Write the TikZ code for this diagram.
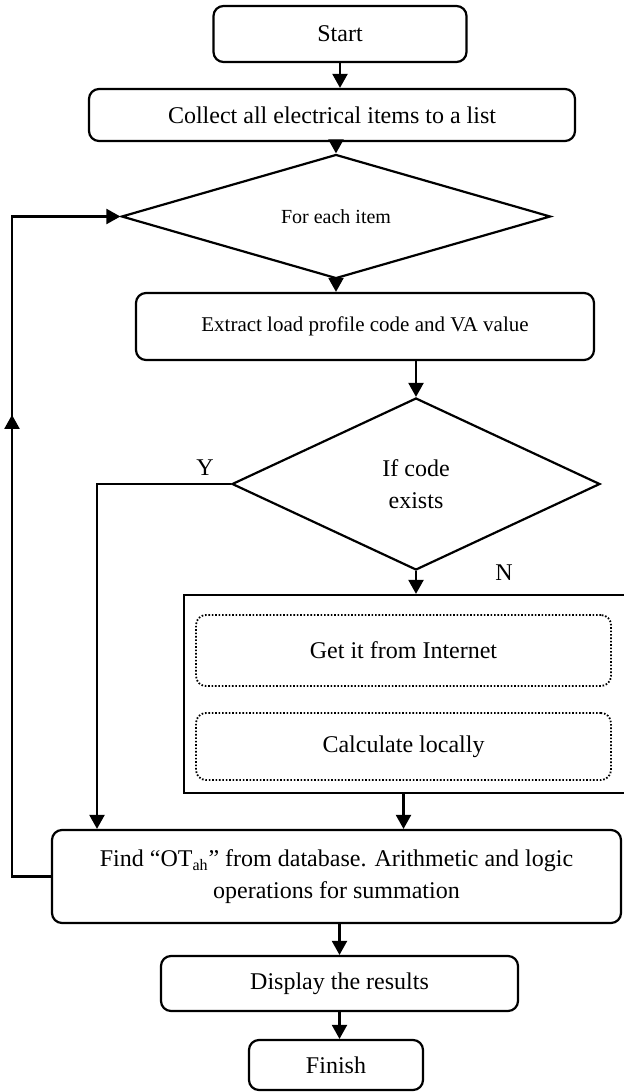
\documentclass[tikz,border=0pt]{standalone}
\usepackage{fontspec}
\setmainfont{Liberation Serif}
\usetikzlibrary{arrows.meta, shapes.geometric, decorations.markings}

\begin{document}
\begin{tikzpicture}[
    x=0.5pt, y=-0.5pt,
    every node/.style={font=\fontsize{12}{16}\selectfont},
    box/.style={rectangle, draw, line width=1.1pt, rounded corners=5pt, inner sep=0pt, align=center},
    decision/.style={diamond, draw, line width=1.1pt, inner sep=0pt, align=center},
    option/.style={rectangle, draw, line width=0.9pt, dash pattern=on 0.8pt off 0.9pt, rounded corners=5pt, inner sep=0pt, align=center},
    group/.style={rectangle, draw, line width=1.1pt, inner sep=0pt},
    arrow/.style={-{Triangle[length=7pt, width=7.5pt]}, line width=1.1pt}
]
\useasboundingbox (0,0) rectangle (623,1092);

% Main nodes
\node[box, minimum width=126.5pt, minimum height=28pt] (start) at (340,34) {Start};
\node[box, minimum width=243pt, minimum height=26pt] (collect) at (332,115) {Collect all electrical items to a list};
\node[decision, minimum width=214.5pt, minimum height=49.5pt, font=\fontsize{10}{12}\selectfont] (each) at (336,216.5) {For each item};
\node[box, minimum width=229pt, minimum height=33.5pt, font=\fontsize{10.5}{12}\selectfont] (extract) at (365,326.5) {Extract load profile code and VA value};
\node[decision, minimum width=184pt, minimum height=86pt] (exists) at (416,484) {If code\\exists};

% Ways to get the code
\node[group, minimum width=221pt, minimum height=99pt] (fetch) at (405,694) {};
\node[option, minimum width=207.5pt, minimum height=35.5pt] (internet) at (403.5,650.5) {Get it from Internet};
\node[option, minimum width=207.5pt, minimum height=33.5pt] (local) at (403.5,746.5) {Calculate locally};

\node[box, minimum width=284.5pt, minimum height=46.5pt] (find) at (336.5,876.5) {Find ``OT\textsubscript{ah}'' from database. Arithmetic and logic\\operations for summation};
\node[box, minimum width=178.5pt, minimum height=27.5pt] (display) at (339.5,983.5) {Display the results};
\node[box, minimum width=87pt, minimum height=25pt] (finish) at (336,1065) {Finish};

% Branch labels
\node (ylabel) at (205,468) {Y};
\node (nlabel) at (504,573) {N};

\coordinate (yleg) at (97,0);
\coordinate (back) at (12,0);

% Arrows
\draw[arrow] (start.south) -- (start.south |- collect.north);
\draw[arrow] (each.north |- collect.south) -- (each.north);
\draw[arrow] (each.south) -- (each.south |- extract.north);
\draw[arrow] (exists.north |- extract.south) -- (exists.north);
\draw[arrow] (exists.south) -- (exists.south |- fetch.north);
\draw[arrow] (exists.west) -| (yleg |- find.north);
\draw[arrow] (fetch.south -| internet.south) -- (internet.south |- find.north);
\draw[arrow] (display.north |- find.south) -- (display.north);
\draw[arrow] (display.south) -- (display.south |- finish.north);

% Loop back
\draw[arrow, postaction={decorate}, decoration={markings, mark=at position 0.62 with {\arrow{Triangle[length=7pt, width=7.5pt]}}}]
    (find.west) -| (back |- each.west) -- (each.west);

\end{tikzpicture}
\end{document}
